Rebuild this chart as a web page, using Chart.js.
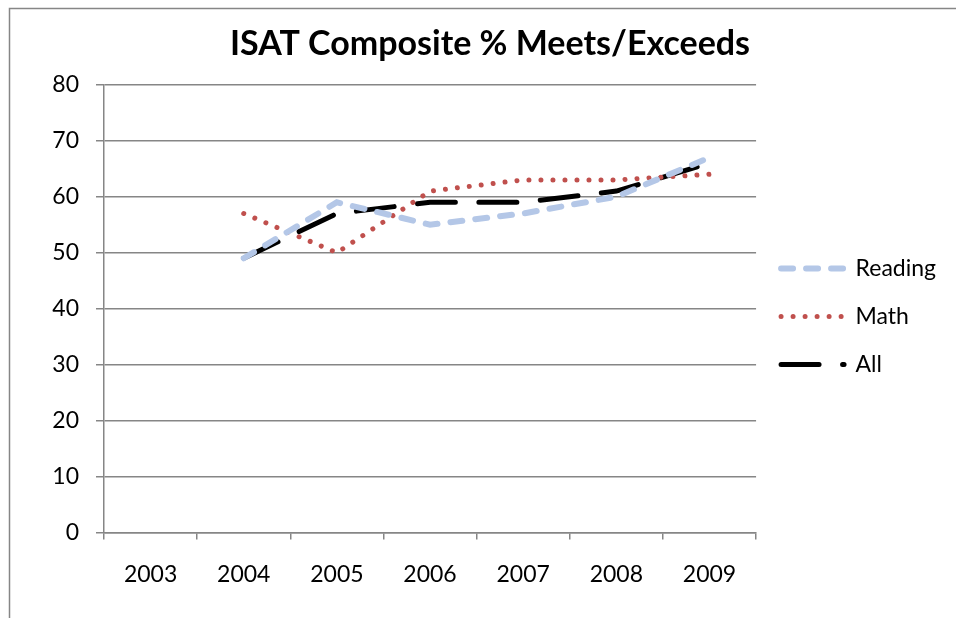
<!DOCTYPE html>
<html><head><meta charset="utf-8">
<script src="https://cdn.jsdelivr.net/npm/chart.js@4"></script>
<style>html,body{margin:0;padding:0;background:#fff;}</style>
</head><body>
<canvas id="c" width="956" height="618"></canvas>
<script>
const categories = ['2003','2004','2005','2006','2007','2008','2009'];
const seriesNames = ['Reading','Math','All'];
const readingValues = [null, 49, 59, 55, 57, 60, 67];
const mathValues = [null, 57, 50, 61, 63, 63, 64];
const allValues = [null, 49, 57, 59, 59, 61, 66];
const yTickValues = [0,10,20,30,40,50,60,70,80];
const chartTitle = 'ISAT Composite % Meets/Exceeds';

const FONT = 'Lato, Carlito, "Open Sans", sans-serif';
const GRID = '#868686';

const framePlugin = {
  id: 'frame',
  beforeDraw(chart) {
    const ctx = chart.ctx;
    ctx.save();
    ctx.fillStyle = '#fff';
    ctx.fillRect(0, 0, chart.width, chart.height);
    ctx.strokeStyle = GRID;
    ctx.lineWidth = 1.5;
    ctx.beginPath();
    ctx.moveTo(9.5, chart.height + 2);
    ctx.lineTo(9.5, 8.5);
    ctx.lineTo(chart.width + 2, 8.5);
    ctx.stroke();
    ctx.restore();
  }
};

new Chart(document.getElementById('c'), {
  type: 'line',
  data: {
    labels: categories,
    datasets: [
      { label: seriesNames[0], data: readingValues, borderColor: '#b4c7e7', backgroundColor: '#b4c7e7',
        borderWidth: 6, borderDash: [12, 13], borderCapStyle: 'round', pointRadius: 0, tension: 0 },
      { label: seriesNames[1], data: mathValues, borderColor: '#c0504d', backgroundColor: '#c0504d',
        borderWidth: 5, borderDash: [0.01, 12], borderCapStyle: 'round', pointRadius: 0, tension: 0 },
      { label: seriesNames[2], data: allValues, borderColor: '#000', backgroundColor: '#000',
        borderWidth: 5, borderDash: [38, 23.5], borderCapStyle: 'round', pointRadius: 0, tension: 0 }
    ]
  },
  options: {
    responsive: false,
    animation: false,
    devicePixelRatio: 1,
    layout: { padding: { left: 34, right: 10, top: 10, bottom: 9 } },
    plugins: {
      title: {
        display: true, text: chartTitle, color: '#000',
        font: { family: FONT, size: 34, weight: 'bold' },
        padding: { top: 14, bottom: 20 }
      },
      legend: {
        display: true, position: 'right', align: 'center', fullSize: false,
        title: { display: true, text: '', font: { size: 10 }, padding: { top: 2, bottom: 2 } },
        labels: {
          usePointStyle: true, pointStyle: 'line', pointStyleWidth: 63,
          padding: 25, color: '#000', font: { family: FONT, size: 23 },
          generateLabels(chart) {
            return chart.data.datasets.map((ds, i) => ({
              text: ds.label, fillStyle: ds.borderColor, strokeStyle: ds.borderColor,
              lineWidth: ds.borderWidth, lineDash: ds.borderDash, lineCap: ds.borderCapStyle,
              pointStyle: 'line', hidden: false, datasetIndex: i, fontColor: '#000'
            }));
          }
        }
      },
      tooltip: { enabled: false }
    },
    scales: {
      x: {
        type: 'category', offset: true,
        grid: { display: true, drawOnChartArea: false, drawTicks: true, tickLength: 7, color: GRID, lineWidth: 1.5, offset: true },
        border: { display: true, color: GRID, width: 1.5 },
        ticks: { color: '#000', font: { family: FONT, size: 23 }, padding: 21, maxRotation: 0 }
      },
      y: {
        min: 0, max: 80,
        afterBuildTicks(s) { s.ticks = yTickValues.map(v => ({ value: v })); },
        afterFit(s) { s.width = 70; },
        grid: { color: GRID, lineWidth: 1.5, tickLength: 8 },
        border: { display: true, color: GRID, width: 1.5 },
        ticks: { color: '#000', font: { family: FONT, size: 23 }, padding: 17 }
      }
    }
  },
  plugins: [framePlugin]
});
</script>
</body></html>
